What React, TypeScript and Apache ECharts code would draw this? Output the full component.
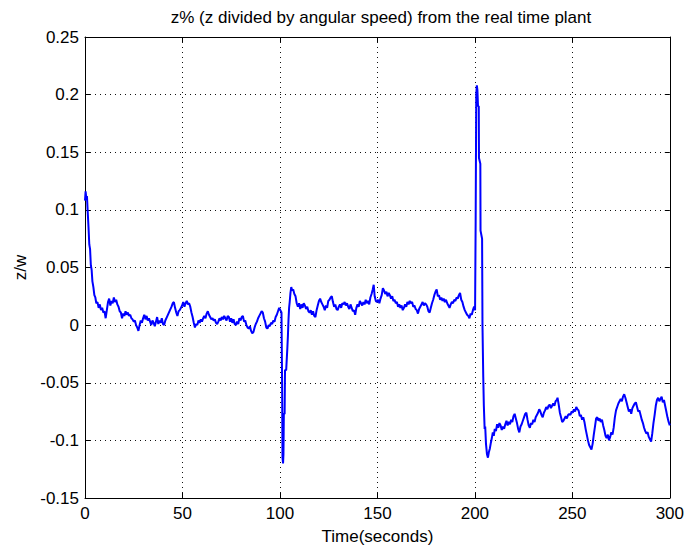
import React, { useEffect, useRef } from "react";
import * as echarts from "echarts";

// [time (s), z/w]
const phaseStart: number[][] = [
  [0, 0.108], [0.3, 0.116], [0.7, 0.11], [1.0, 0.112], [1.4, 0.098], [1.8, 0.085], [2.2, 0.07], [2.6, 0.066],
  [3.0, 0.052], [3.4, 0.048], [3.8, 0.038], [4.3, 0.033], [4.8, 0.026], [5.3, 0.024], [5.8, 0.019], [6.4, 0.02],
  [7.0, 0.015], [7.6, 0.018], [8.2, 0.013], [8.8, 0.015], [9.4, 0.011], [10.0, 0.012], [10.6, 0.006], [11.2, 0.013],
  [11.8, 0.02], [12.4, 0.023], [13.0, 0.017], [13.6, 0.021], [14.2, 0.019], [14.8, 0.024], [15.4, 0.02], [16.0, 0.022],
  [16.6, 0.018], [17.2, 0.016], [17.8, 0.012], [18.4, 0.011], [19.0, 0.006], [19.6, 0.01], [20.2, 0.008], [20.8, 0.012],
  [21.4, 0.009], [22.0, 0.011], [22.6, 0.008], [23.2, 0.009], [23.8, 0.006], [24.4, 0.005], [25.0, 0.003], [25.6, 0.004],
  [26.2, 0.0], [26.8, -0.002], [27.4, -0.005], [28.0, 0.0], [28.6, 0.004], [29.2, 0.002], [29.8, 0.006], [30.4, 0.009],
  [31.0, 0.005], [31.6, 0.008], [32.2, 0.004], [32.8, 0.006], [33.4, 0.003], [34.0, 0.0], [34.6, 0.004], [35.2, 0.002],
  [35.8, -0.001], [36.4, 0.003], [37.0, 0.007], [37.6, 0.001], [38.2, 0.004], [38.8, 0.002], [39.4, 0.006], [40.0, 0.001],
  [40.6, 0.0], [41.2, 0.004], [42.0, 0.007], [42.8, 0.01], [43.6, 0.013], [44.4, 0.016], [45.0, 0.019], [45.6, 0.02],
  [46.2, 0.015], [46.8, 0.011], [47.4, 0.008], [48.0, 0.012], [48.6, 0.013], [49.2, 0.015], [49.8, 0.017], [50.4, 0.02],
  [51.0, 0.016], [51.6, 0.019], [52.2, 0.021], [52.8, 0.018], [53.4, 0.019], [54.0, 0.016], [54.6, 0.011], [55.2, 0.007],
  [55.8, 0.002], [56.4, -0.002], [57.0, 0.001], [57.6, 0.0], [58.2, 0.004], [58.8, 0.002], [59.4, 0.005], [60.0, 0.003],
  [60.6, 0.006], [61.2, 0.008], [61.8, 0.006], [62.4, 0.01], [63.0, 0.012], [63.6, 0.009], [64.2, 0.007], [64.8, 0.005],
  [65.4, 0.006], [66.0, 0.004], [66.6, 0.005], [67.2, 0.002], [67.8, 0.001], [68.4, 0.003], [69.0, 0.006], [69.6, 0.004],
  [70.2, 0.007], [70.8, 0.005], [71.4, 0.008], [72.0, 0.006], [72.6, 0.004], [73.2, 0.008], [73.8, 0.007], [74.4, 0.003],
  [75.0, 0.006], [75.6, 0.002], [76.2, 0.005], [76.8, 0.001], [77.4, 0.0], [78.0, 0.003], [78.6, 0.001], [79.2, 0.006],
  [79.8, 0.004], [80.4, 0.007], [81.0, 0.008], [81.6, 0.003], [82.2, 0.004], [82.8, 0.0], [83.4, -0.002], [84.0, -0.003],
  [84.6, -0.001], [85.2, -0.005], [85.8, -0.007], [86.4, -0.006], [87.0, -0.002], [87.6, 0.001], [88.2, 0.003], [88.8, 0.006],
  [89.4, 0.008], [90.0, 0.01], [90.6, 0.012], [91.2, 0.011], [91.8, 0.006], [92.4, 0.003], [93.0, -0.002], [93.6, -0.003],
  [94.2, 0.0], [94.8, -0.001], [95.4, 0.002], [96.0, 0.001], [96.6, 0.004], [97.2, 0.003], [97.8, 0.007], [98.4, 0.009],
  [99.0, 0.012], [99.6, 0.015], [100.2, 0.013], [100.8, 0.011],
];

const dip100: number[][] = [
  [101.1, -0.05], [101.3, -0.115], [101.6, -0.12], [101.8, -0.112], [102.0, -0.077], [102.4, -0.077], [102.6, -0.039],
  [103.2, -0.039], [103.8, -0.02], [104.1, -0.009], [104.4, 0.005], [104.7, 0.015], [105.0, 0.02], [105.4, 0.028],
  [105.8, 0.033], [106.3, 0.03], [106.8, 0.031], [107.4, 0.027],
];

const phaseMiddle: number[][] = [
  [108.0, 0.025], [108.6, 0.019], [109.2, 0.016], [109.8, 0.019], [110.4, 0.014], [111.0, 0.018], [111.6, 0.015], [112.2, 0.019],
  [112.8, 0.017], [113.4, 0.014], [114.0, 0.016], [114.6, 0.012], [115.2, 0.011], [115.8, 0.013], [116.4, 0.009], [117.0, 0.012],
  [117.6, 0.008], [118.2, 0.007], [118.8, 0.013], [119.4, 0.017], [120.0, 0.021], [120.6, 0.023], [121.2, 0.02], [121.8, 0.018],
  [122.4, 0.016], [123.0, 0.013], [123.6, 0.017], [124.2, 0.015], [124.8, 0.021], [125.4, 0.022], [126.0, 0.024], [126.6, 0.025],
  [127.2, 0.02], [127.8, 0.016], [128.4, 0.018], [129.0, 0.014], [129.6, 0.013], [130.2, 0.016], [130.8, 0.018], [131.4, 0.015],
  [132.0, 0.019], [132.6, 0.018], [133.2, 0.02], [133.8, 0.017], [134.4, 0.019], [135.0, 0.016], [135.6, 0.014], [136.2, 0.018],
  [136.8, 0.015], [137.4, 0.012], [138.0, 0.013], [138.6, 0.009], [139.2, 0.015], [139.8, 0.018], [140.4, 0.016], [141.0, 0.021],
  [141.6, 0.019], [142.2, 0.017], [142.8, 0.02], [143.4, 0.018], [144.0, 0.022], [144.6, 0.019], [145.2, 0.021], [145.8, 0.018],
  [146.4, 0.024], [147.0, 0.027], [147.6, 0.031], [148.1, 0.035], [148.6, 0.025], [149.2, 0.021], [149.8, 0.02], [150.4, 0.022],
  [151.0, 0.019], [151.6, 0.023], [152.2, 0.026], [152.8, 0.032], [153.4, 0.03], [154.0, 0.027], [154.6, 0.029], [155.2, 0.025],
  [155.8, 0.028], [156.4, 0.026], [157.0, 0.023], [157.6, 0.025], [158.2, 0.021], [158.8, 0.022], [159.4, 0.019], [160.0, 0.02],
  [160.6, 0.016], [161.2, 0.018], [161.8, 0.015], [162.4, 0.017], [163.0, 0.013], [163.6, 0.015], [164.2, 0.018], [164.8, 0.016],
  [165.4, 0.02], [166.0, 0.018], [166.6, 0.021], [167.2, 0.019], [167.8, 0.02], [168.4, 0.016], [169.0, 0.017], [169.6, 0.014],
  [170.2, 0.013], [170.8, 0.01], [171.4, 0.014], [172.0, 0.016], [172.6, 0.018], [173.2, 0.02], [173.8, 0.017], [174.4, 0.019],
  [175.0, 0.018], [175.6, 0.016], [176.2, 0.012], [176.8, 0.011], [177.4, 0.015], [178.0, 0.019], [178.6, 0.022], [179.2, 0.026],
  [179.8, 0.029], [180.4, 0.031], [181.0, 0.025], [181.6, 0.026], [182.2, 0.022], [182.8, 0.024], [183.4, 0.021], [184.0, 0.023],
  [184.6, 0.02], [185.2, 0.022], [185.8, 0.019], [186.4, 0.017], [187.0, 0.015], [187.6, 0.018], [188.2, 0.02], [188.8, 0.019],
  [189.4, 0.022], [190.0, 0.021], [190.6, 0.024], [191.2, 0.023], [191.8, 0.026], [192.4, 0.028], [193.0, 0.022], [193.6, 0.02],
  [194.2, 0.016], [194.8, 0.013], [195.4, 0.011], [196.0, 0.009], [196.6, 0.008], [197.2, 0.006], [197.8, 0.01], [198.4, 0.009],
  [199.0, 0.013], [199.6, 0.016], [200.1, 0.013],
];

const spike200: number[][] = [
  [200.4, 0.09], [200.7, 0.2], [201.0, 0.208], [201.3, 0.204], [201.6, 0.19], [202.0, 0.19], [202.1, 0.145], [202.8, 0.14],
  [202.9, 0.082], [203.7, 0.075], [203.9, 0.0], [204.3, -0.045], [204.6, -0.07], [205.0, -0.09], [205.3, -0.088],
  [205.7, -0.103], [206.2, -0.112], [206.7, -0.115], [207.2, -0.11],
];

const phaseEnd: number[][] = [
  [207.7, -0.107], [208.2, -0.102], [208.7, -0.098], [209.2, -0.093], [209.7, -0.096], [210.2, -0.09], [210.8, -0.092],
  [211.4, -0.086], [212.0, -0.089], [212.6, -0.085], [213.2, -0.087], [213.8, -0.091], [214.4, -0.088], [215.0, -0.09],
  [215.6, -0.086], [216.2, -0.083], [216.8, -0.087], [217.4, -0.084], [218.0, -0.086], [218.6, -0.082], [219.2, -0.084],
  [219.8, -0.079], [220.4, -0.077], [221.0, -0.081], [221.6, -0.085], [222.2, -0.09], [222.8, -0.093], [223.4, -0.088],
  [224.0, -0.086], [224.6, -0.083], [225.2, -0.08], [225.8, -0.077], [226.4, -0.076], [227.0, -0.082], [227.6, -0.087],
  [228.2, -0.089], [228.8, -0.085], [229.4, -0.086], [230.0, -0.082], [230.6, -0.084], [231.2, -0.08], [231.8, -0.078],
  [232.4, -0.076], [233.0, -0.073], [233.6, -0.075], [234.2, -0.078], [234.8, -0.08], [235.4, -0.076], [236.0, -0.074],
  [236.6, -0.071], [237.2, -0.073], [237.8, -0.07], [238.4, -0.069], [239.0, -0.072], [239.6, -0.07], [240.2, -0.068],
  [240.8, -0.07], [241.4, -0.066], [242.0, -0.065], [242.4, -0.063], [243.0, -0.069], [243.6, -0.076], [244.2, -0.08],
  [244.8, -0.084], [245.4, -0.083], [246.0, -0.081], [246.6, -0.079], [247.2, -0.081], [247.8, -0.078], [248.4, -0.077],
  [249.0, -0.078], [249.6, -0.075], [250.2, -0.076], [250.8, -0.073], [251.4, -0.075], [252.0, -0.071], [252.6, -0.073],
  [253.2, -0.074], [253.8, -0.079], [254.4, -0.078], [255.0, -0.082], [255.6, -0.08], [256.2, -0.084], [256.8, -0.09],
  [257.4, -0.095], [258.0, -0.1], [258.6, -0.104], [259.2, -0.106], [259.8, -0.108], [260.4, -0.103], [261.0, -0.095],
  [261.6, -0.088], [262.2, -0.081], [262.8, -0.08], [263.4, -0.083], [264.0, -0.081], [264.6, -0.084], [265.2, -0.082],
  [265.8, -0.087], [266.4, -0.091], [267.0, -0.096], [267.6, -0.098], [268.2, -0.095], [268.8, -0.1], [269.4, -0.097],
  [270.0, -0.093], [270.6, -0.095], [271.2, -0.089], [271.8, -0.08], [272.4, -0.074], [273.0, -0.071], [273.6, -0.068],
  [274.2, -0.066], [274.8, -0.064], [275.4, -0.066], [276.0, -0.062], [276.6, -0.06], [277.2, -0.063], [277.8, -0.067],
  [278.4, -0.071], [279.0, -0.075], [279.6, -0.073], [280.2, -0.077], [280.8, -0.072], [281.4, -0.07], [282.0, -0.068],
  [282.6, -0.067], [283.2, -0.071], [283.8, -0.075], [284.4, -0.074], [285.0, -0.078], [285.6, -0.082], [286.2, -0.085],
  [286.8, -0.089], [287.4, -0.092], [288.0, -0.094], [288.6, -0.093], [289.2, -0.097], [289.8, -0.099], [290.4, -0.101],
  [291.0, -0.094], [291.6, -0.085], [292.2, -0.078], [292.8, -0.07], [293.4, -0.065], [294.0, -0.063], [294.6, -0.066],
  [295.2, -0.064], [295.8, -0.062], [296.4, -0.067], [297.0, -0.065], [297.6, -0.07], [298.2, -0.075], [298.8, -0.08],
  [299.4, -0.084], [300.0, -0.087],
];

const xTicks = [0, 50, 100, 150, 200, 250, 300];
const yMin = -0.15;
const yMax = 0.25;
const yStep = 0.05;

const FONT = "Liberation Sans, Arial, sans-serif";

export default function App() {
  const ref = useRef<HTMLDivElement>(null);
  useEffect(() => {
    if (!ref.current) return;
    const chart = echarts.init(ref.current, null, { renderer: "svg" });
    const data = [...phaseStart, ...dip100, ...phaseMiddle, ...spike200, ...phaseEnd];
    const fmtY = (v: number) => String(parseFloat(v.toFixed(2)));
    const xBase = {
      type: "value",
      min: xTicks[0],
      max: xTicks[xTicks.length - 1],
      interval: 50,
      axisLine: { show: true, onZero: false, lineStyle: { color: "#000", width: 1 } },
      axisTick: { show: true, inside: true, length: 5, lineStyle: { color: "#000" } },
    };
    const yBase = {
      type: "value",
      min: yMin,
      max: yMax,
      interval: yStep,
      axisLine: { show: true, onZero: false, lineStyle: { color: "#000", width: 1 } },
      axisTick: { show: true, inside: true, length: 5, lineStyle: { color: "#000" } },
    };
    chart.setOption({
      animation: false,
      backgroundColor: "#fff",
      title: {
        text: "z% (z divided by angular speed) from the real time plant",
        left: 381,
        textAlign: "center",
        top: 9,
        padding: 0,
        textStyle: { fontFamily: FONT, fontSize: 17, fontWeight: "normal", color: "#000" },
      },
      grid: { left: 85, right: 15, top: 37, bottom: 52, containLabel: false },
      xAxis: [
        {
          ...xBase,
          position: "bottom",
          name: "Time(seconds)",
          nameLocation: "middle",
          nameGap: 30,
          nameTextStyle: { fontFamily: FONT, fontSize: 17, color: "#000" },
          axisLabel: { margin: 7, fontFamily: FONT, fontSize: 17, color: "#000" },
          splitLine: { show: true, lineStyle: { color: "#111", width: 1, type: [1, 4] } },
        },
        {
          ...xBase,
          position: "top",
          axisLabel: { show: false },
          splitLine: { show: false },
        },
      ],
      yAxis: [
        {
          ...yBase,
          position: "left",
          name: "z/w",
          nameLocation: "middle",
          nameGap: 56,
          nameTextStyle: { fontFamily: FONT, fontSize: 17, color: "#000" },
          axisLabel: { margin: 6, fontFamily: FONT, fontSize: 17, color: "#000", formatter: fmtY },
          splitLine: { show: true, lineStyle: { color: "#111", width: 1, type: [1, 4] } },
        },
        {
          ...yBase,
          position: "right",
          axisLabel: { show: false },
          splitLine: { show: false },
        },
      ],
      series: [
        {
          type: "line",
          data,
          xAxisIndex: 0,
          yAxisIndex: 0,
          showSymbol: false,
          symbol: "none",
          lineStyle: { color: "#0000ff", width: 2 },
        },
      ],
    });
    return () => chart.dispose();
  }, []);
  return (
    <div
      ref={ref}
      style={{ position: "fixed", left: 0, top: 0, width: 687, height: 550, background: "#fff" }}
    />
  );
}
